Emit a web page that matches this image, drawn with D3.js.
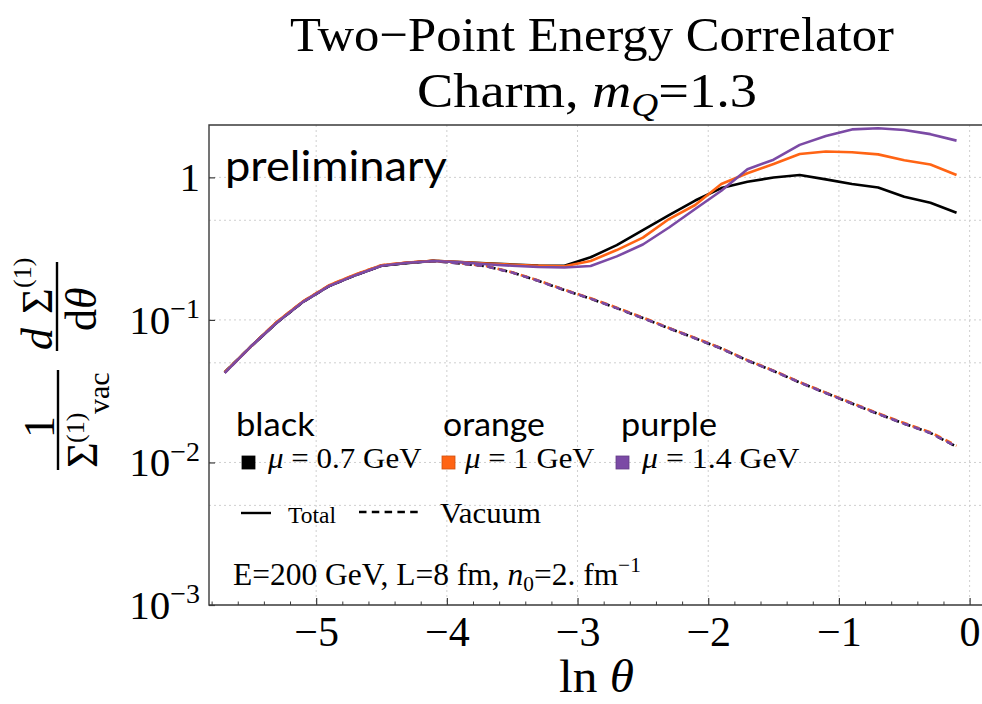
<!DOCTYPE html>
<html>
<head>
<meta charset="utf-8">
<script src="https://cdn.jsdelivr.net/npm/d3@7"></script>
<style>
  html, body { margin: 0; padding: 0; background: #fff; }
  svg { display: block; }
  .serif { font-family: "Liberation Serif", "Times New Roman", serif; }
  .sans { font-family: "Lato", "Open Sans", sans-serif; }
</style>
</head>
<body>
<svg id="chart" width="982" height="704"></svg>
<script>
// ln(theta) sample points of the computed correlator
const lnTheta = [-5.7, -5.5, -5.3, -5.1, -4.9, -4.7, -4.5, -4.3, -4.1, -3.9,
                 -3.7, -3.5, -3.3, -3.1, -2.9, -2.7, -2.5, -2.3, -2.1, -1.9,
                 -1.7, -1.5, -1.3, -1.1, -0.9, -0.7, -0.5, -0.3, -0.1];

// Total (medium-modified) correlator, normalised to the vacuum integral
const totalBlack  = [0.0428, 0.065, 0.096, 0.134, 0.173, 0.206, 0.240, 0.251, 0.260, 0.255,
                     0.250, 0.245, 0.241, 0.240, 0.275, 0.335, 0.427, 0.544, 0.688, 0.841,
                     0.931, 0.997, 1.04, 0.968, 0.898, 0.850, 0.731, 0.664, 0.565];
const totalOrange = [0.0428, 0.065, 0.097, 0.135, 0.175, 0.208, 0.242, 0.253, 0.260, 0.255,
                     0.249, 0.244, 0.240, 0.238, 0.259, 0.309, 0.378, 0.510, 0.640, 0.898,
                     1.07, 1.24, 1.46, 1.52, 1.50, 1.45, 1.32, 1.23, 1.04];
const totalPurple = [0.0425, 0.065, 0.096, 0.134, 0.173, 0.206, 0.240, 0.252, 0.259, 0.254,
                     0.246, 0.240, 0.235, 0.233, 0.239, 0.279, 0.338, 0.445, 0.600, 0.805,
                     1.14, 1.33, 1.69, 1.95, 2.17, 2.21, 2.15, 2.01, 1.81];

// Vacuum baseline for each medium scale
const vacBlack  = [0.0428, 0.065, 0.096, 0.134, 0.173, 0.206, 0.240, 0.251, 0.259, 0.249,
                   0.238, 0.215, 0.188, 0.162, 0.141, 0.121, 0.103, 0.0873, 0.0743, 0.0630,
                   0.0519, 0.0438, 0.0364, 0.0307, 0.0259, 0.0219, 0.0187, 0.0161, 0.0129];
const vacOrange = [0.0428, 0.065, 0.097, 0.135, 0.175, 0.208, 0.242, 0.253, 0.260, 0.250,
                   0.239, 0.216, 0.189, 0.163, 0.142, 0.122, 0.104, 0.0878, 0.0748, 0.0634,
                   0.0522, 0.0441, 0.0366, 0.0309, 0.0261, 0.0221, 0.0189, 0.0163, 0.0131];
const vacPurple = [0.0425, 0.065, 0.096, 0.134, 0.173, 0.206, 0.240, 0.252, 0.259, 0.249,
                   0.238, 0.215, 0.188, 0.162, 0.141, 0.121, 0.103, 0.0873, 0.0743, 0.0630,
                   0.0519, 0.0438, 0.0364, 0.0307, 0.0259, 0.0219, 0.0187, 0.0161, 0.0129];

const seriesNames = ["black", "orange", "purple"];
const muValues    = ["0.7", "1", "1.4"];
const colors      = ["#000000", "#ff6414", "#7b4aa5"];
const totals      = [totalBlack, totalOrange, totalPurple];
const vacuums     = [vacBlack, vacOrange, vacPurple];

const xMajorTicks = [-5, -4, -3, -2, -1, 0];
const xMinorTicks = [-5.8, -5.6, -5.4, -5.2, -4.8, -4.6, -4.4, -4.2, -3.8, -3.6, -3.4, -3.2,
                     -2.8, -2.6, -2.4, -2.2, -1.8, -1.6, -1.4, -1.2, -0.8, -0.6, -0.4, -0.2];
const yMajorTicks = [1, 0.1, 0.01, 0.001];
const yGridValues = [1, 0.5, 0.1, 0.05, 0.01, 0.005];
const xDomain = [-5.82, 0.156];
const yDomain = [0.001, 2.33];

// ---- layout ----
const svg = d3.select("#chart");
const plot = { left: 209, right: 990, top: 125, bottom: 605 };

const x = d3.scaleLinear().domain(xDomain).range([plot.left, plot.right]);
const y = d3.scaleLog().domain(yDomain).range([plot.bottom, plot.top]);

// stretch a text element horizontally so it spans [left, left + width]
function fitSpan(sel, left, width) {
  const bb = sel.node().getBBox();
  const s = width / bb.width;
  sel.attr("transform", `translate(${left},0) scale(${s},1) translate(${-bb.x},0)`);
}

const clipId = "plotClip";
svg.append("defs").append("clipPath").attr("id", clipId)
  .append("rect").attr("x", plot.left).attr("y", plot.top)
  .attr("width", plot.right - plot.left).attr("height", plot.bottom - plot.top);

// ---- grid ----
const grid = svg.append("g").attr("stroke", "#cfcfcf").attr("stroke-width", 1)
  .attr("stroke-dasharray", "2,3");
grid.selectAll("line.vx").data(xMajorTicks).join("line")
  .attr("x1", d => x(d)).attr("x2", d => x(d))
  .attr("y1", plot.top).attr("y2", plot.bottom);
grid.selectAll("line.hy").data(yGridValues).join("line")
  .attr("x1", plot.left).attr("x2", plot.right)
  .attr("y1", d => y(d)).attr("y2", d => y(d));

// ---- curves ----
const line = d3.line().x((d, i) => x(lnTheta[i])).y(d => y(d));
const curves = svg.append("g").attr("clip-path", `url(#${clipId})`).attr("fill", "none");
const dashOffsets = [0, 2.5, 1.2];
vacuums.forEach((vals, k) => {
  curves.append("path").attr("d", line(vals))
    .attr("stroke", colors[k]).attr("stroke-width", 2.6)
    .attr("stroke-dasharray", "7,5").attr("stroke-dashoffset", dashOffsets[k]);
});
totals.forEach((vals, k) => {
  curves.append("path").attr("d", line(vals))
    .attr("stroke", colors[k]).attr("stroke-width", 2.6)
    .attr("stroke-linejoin", "round");
});

// ---- frame ----
svg.append("path")
  .attr("d", `M${plot.right},${plot.top}H${plot.left}V${plot.bottom}H${plot.right}`)
  .attr("fill", "none").attr("stroke", "#3a3a3a").attr("stroke-width", 1.4);

// ---- axes ----
const xAxis = svg.append("g").attr("transform", `translate(0,${plot.bottom})`)
  .call(d3.axisBottom(x).tickValues(xMajorTicks).tickSize(-7).tickPadding(11)
    .tickFormat(d3.format("d")));
xAxis.select(".domain").remove();
xAxis.selectAll(".tick line").attr("stroke", "#3a3a3a").attr("stroke-width", 1.2);
xAxis.selectAll(".tick text").attr("class", "serif").attr("font-size", 42).attr("fill", "#000");

const xMinor = svg.append("g").attr("transform", `translate(0,${plot.bottom})`)
  .call(d3.axisBottom(x).tickValues(xMinorTicks).tickSize(-3.5).tickFormat(""));
xMinor.select(".domain").remove();
xMinor.selectAll(".tick line").attr("stroke", "#3a3a3a").attr("stroke-width", 1);

const yAxis = svg.append("g").attr("transform", `translate(${plot.left},0)`)
  .call(d3.axisLeft(y).tickValues(yMajorTicks).tickSize(-6).tickPadding(9).tickFormat(""));
yAxis.select(".domain").remove();
yAxis.selectAll(".tick line").attr("stroke", "#3a3a3a").attr("stroke-width", 1.2);
yAxis.selectAll(".tick text").attr("class", "serif").attr("font-size", 41).attr("fill", "#000")
  .each(function (d) {
    const t = d3.select(this);
    const e = Math.round(Math.log10(d));
    if (e === 0) { t.text("1"); return; }
    t.append("tspan").text("10");
    t.append("tspan").attr("font-size", 28).attr("dy", "-0.55em").text("\u2212" + (-e));
  });

// ---- titles ----
const title1 = svg.append("text").attr("class", "serif").attr("font-size", 49)
  .attr("x", 592).attr("y", 51).attr("text-anchor", "middle")
  .text("Two\u2212Point Energy Correlator");
fitSpan(title1, 290, 604);

const title2 = svg.append("text").attr("class", "serif").attr("font-size", 48)
  .attr("x", 417).attr("y", 107);
title2.append("tspan").text("Charm, ");
title2.append("tspan").attr("font-style", "italic").text("m");
title2.append("tspan").attr("font-style", "italic").attr("font-size", 33).attr("dy", 9).text("Q");
title2.append("tspan").attr("dy", -9).text("=1.3");
fitSpan(title2, 417, 340);

// ---- axis titles ----
const xTitle = svg.append("text").attr("class", "serif").attr("font-size", 46)
  .attr("x", 559).attr("y", 692);
xTitle.append("tspan").text("ln ");
xTitle.append("tspan").attr("font-style", "italic").text("\u03b8");
fitSpan(xTitle, 559, 75);

// rotated y label: 1/Σ(1)vac · dΣ(1)/dθ  (local x = -image y, local y = image x)
const yl = svg.append("g").attr("class", "serif").attr("transform", "rotate(-90)");
yl.append("line").attr("x1", -470).attr("x2", -370).attr("y1", 58).attr("y2", 58)
  .attr("stroke", "#000").attr("stroke-width", 2.4);
yl.append("text").attr("font-size", 44).attr("x", -427).attr("y", 54)
  .attr("text-anchor", "middle").text("1");
yl.append("text").attr("font-size", 44).attr("x", -468).attr("y", 97).text("\u03a3");
yl.append("text").attr("font-size", 26).attr("x", -443).attr("y", 84).text("(1)");
yl.append("text").attr("font-size", 30).attr("x", -414).attr("y", 109).text("vac");

yl.append("line").attr("x1", -351).attr("x2", -262).attr("y1", 57).attr("y2", 57)
  .attr("stroke", "#000").attr("stroke-width", 2.4);
yl.append("text").attr("font-size", 44).attr("font-style", "italic")
  .attr("x", -350).attr("y", 52).text("d");
yl.append("text").attr("font-size", 44).attr("x", -314).attr("y", 52).text("\u03a3");
yl.append("text").attr("font-size", 26).attr("x", -288).attr("y", 31).text("(1)");
const dth = yl.append("text").attr("font-size", 44).attr("x", -331).attr("y", 96);
dth.append("tspan").text("d");
dth.append("tspan").attr("font-style", "italic").text("\u03b8");

// ---- watermark ----
const prelim = svg.append("text").attr("class", "sans").attr("font-size", 43)
  .attr("x", 225).attr("y", 181).text("preliminary");
fitSpan(prelim, 225, 222);

// ---- legend ----
const nameLeft  = [236, 443, 621];
const nameWidth = [79, 102, 96];
const boxLeft   = [242, 442, 616];
const muLeft    = [267, 464, 641];
const muWidth   = [155, 131, 159];
seriesNames.forEach((name, k) => {
  const t = svg.append("text").attr("class", "sans").attr("font-size", 33)
    .attr("x", nameLeft[k]).attr("y", 436).text(name);
  fitSpan(t, nameLeft[k], nameWidth[k]);
  svg.append("rect").attr("x", boxLeft[k]).attr("y", 456).attr("width", 13).attr("height", 13)
    .attr("fill", colors[k]).attr("stroke", d3.color(colors[k]).darker(0.6)).attr("stroke-width", 0.8);
  const m = svg.append("text").attr("class", "serif").attr("font-size", 30)
    .attr("x", muLeft[k]).attr("y", 468);
  m.append("tspan").attr("font-style", "italic").text("\u03bc");
  m.append("tspan").text(` = ${muValues[k]} GeV`);
  fitSpan(m, muLeft[k], muWidth[k]);
});

svg.append("line").attr("x1", 241).attr("x2", 271).attr("y1", 513).attr("y2", 513)
  .attr("stroke", "#000").attr("stroke-width", 2.4);
const tot = svg.append("text").attr("class", "serif").attr("font-size", 23)
  .attr("x", 288).attr("y", 523).text("Total");
fitSpan(tot, 288, 48);
svg.append("line").attr("x1", 359).attr("x2", 418).attr("y1", 512).attr("y2", 512)
  .attr("stroke", "#000").attr("stroke-width", 2.4).attr("stroke-dasharray", "7.5,5.3");
const vac = svg.append("text").attr("class", "serif").attr("font-size", 30)
  .attr("x", 440).attr("y", 523).text("Vacuum");
fitSpan(vac, 440, 101);

// ---- parameters ----
const note = svg.append("text").attr("class", "serif").attr("font-size", 31)
  .attr("x", 233).attr("y", 585);
note.append("tspan").text("E=200 GeV, L=8 fm, ");
note.append("tspan").attr("font-style", "italic").text("n");
note.append("tspan").attr("font-size", 21).attr("dy", 6).text("0");
note.append("tspan").attr("dy", -6).text("=2. fm");
note.append("tspan").attr("font-size", 21).attr("dy", -13).text("\u22121");
fitSpan(note, 233, 408);
</script>
</body>
</html>
